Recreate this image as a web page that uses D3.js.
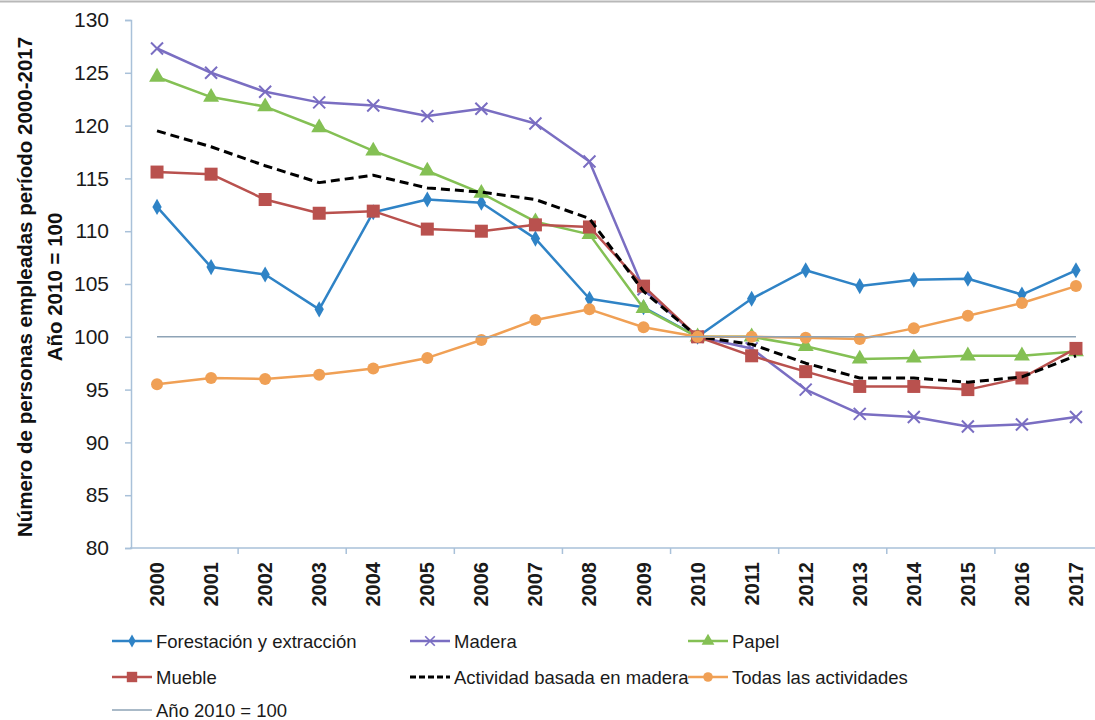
<!DOCTYPE html>
<html>
<head>
<meta charset="utf-8">
<script src="https://cdn.jsdelivr.net/npm/d3@7"></script>
<style>
  body { margin: 0; background: #fff; }
  svg { display: block; font-family: "Liberation Sans", Arial, sans-serif; }
</style>
</head>
<body>
<div id="container"></div>
<script>
// data (index, 2010 = 100)
var years = ['2000','2001','2002','2003','2004','2005','2006','2007','2008','2009',
             '2010','2011','2012','2013','2014','2015','2016','2017']
var forestacion = [112.3,106.6,105.9,102.6,111.8,113.0,112.7,109.3,103.6,102.8,100,103.6,106.3,104.8,105.4,105.5,104.0,106.3]
var madera      = [127.3,125.0,123.2,122.2,121.9,120.9,121.6,120.2,116.6,104.5,100,98.9,95.0,92.7,92.4,91.5,91.7,92.4]
var papel       = [124.6,122.7,121.8,119.8,117.6,115.7,113.6,110.9,109.7,102.7,100,100.0,99.1,97.9,98.0,98.2,98.2,98.6]
var mueble      = [115.6,115.4,113.0,111.7,111.9,110.2,110.0,110.6,110.4,104.8,100,98.2,96.7,95.3,95.3,95.0,96.1,98.9]
var actividad   = [119.5,118.0,116.2,114.6,115.3,114.1,113.7,113.0,111.2,104.3,100,99.3,97.5,96.1,96.1,95.7,96.2,98.2]
var todas       = [95.5,96.1,96.0,96.4,97.0,98.0,99.7,101.6,102.6,100.9,100,100.0,99.9,99.8,100.8,102.0,103.2,104.8]
var base2010    = [100,100,100,100,100,100,100,100,100,100,100,100,100,100,100,100,100,100]
var yTicks = [80,85,90,95,100,105,110,115,120,125,130]

var WIDTH = 1095
var HEIGHT = 720

var svg = d3.select('div#container').append('svg')
  .attr('width', WIDTH)
  .attr('height', HEIGHT)

// thin frame line at the very top of the picture
svg.append('line')
  .attr('x1', 0).attr('x2', WIDTH).attr('y1', 1.5).attr('y2', 1.5)
  .attr('stroke', '#b8b8b8').attr('stroke-width', 2)

var x = d3.scaleBand().domain(years).range([130, 1103])
var y = d3.scaleLinear().domain([80, 130]).range([548, 20])
var cx = function (d) { return x(d) + x.bandwidth() / 2 }

var axisColor = '#a9c1d9'

// y axis
var yAxis = svg.append('g')
  .attr('transform', 'translate(131,0)')
  .call(d3.axisLeft(y).tickValues(yTicks).tickSize(6).tickPadding(16))
yAxis.select('.domain').attr('stroke', axisColor).attr('stroke-width', 1.5)
yAxis.selectAll('.tick line').attr('stroke', axisColor).attr('stroke-width', 1.5)
yAxis.selectAll('.tick text')
  .attr('font-size', 21).attr('fill', '#1a1a1a')
  .attr('font-family', 'Liberation Sans, Arial, sans-serif')

// x axis, tick marks every two categories like the original
var xAxis = svg.append('g').attr('transform', 'translate(0,548)')
xAxis.append('line')
  .attr('x1', 130).attr('x2', WIDTH)
  .attr('stroke', axisColor).attr('stroke-width', 1.5)
xAxis.selectAll('line.tk')
  .data(years.filter(function (d, i) { return i % 2 === 0 && i > 0 }))
  .enter().append('line')
  .attr('class', 'tk')
  .attr('x1', function (d) { return x(d) }).attr('x2', function (d) { return x(d) })
  .attr('y1', 0).attr('y2', 6)
  .attr('stroke', axisColor).attr('stroke-width', 1.5)
xAxis.selectAll('text')
  .data(years)
  .enter().append('text')
  .attr('transform', function (d) { return 'translate(' + (cx(d) + 7) + ',14) rotate(-90)' })
  .attr('text-anchor', 'end')
  .attr('font-size', 20)
  .attr('font-weight', 'bold')
  .attr('fill', '#1a1a1a')
  .text(function (d) { return d })

// y title (two lines)
var yTitle = svg.append('text')
  .attr('transform', 'translate(32,287) rotate(-90)')
  .attr('text-anchor', 'middle')
  .attr('font-size', 20.5)
  .attr('font-weight', 'bold')
  .attr('fill', '#111')
yTitle.append('tspan').attr('x', 0).attr('y', 0).text('Número de personas empleadas período 2000-2017')
yTitle.append('tspan').attr('x', 0).attr('y', 30).text('Año 2010 = 100')

// series
var series = [
  { name: 'Forestación y extracción', values: forestacion, color: '#2f83c6', marker: 'diamond', width: 2.5 },
  { name: 'Madera', values: madera, color: '#7a6ec2', marker: 'x', width: 2.5 },
  { name: 'Papel', values: papel, color: '#84c054', marker: 'triangle', width: 2.5 },
  { name: 'Mueble', values: mueble, color: '#b9514e', marker: 'square', width: 2.5 },
  { name: 'Actividad basada en madera', values: actividad, color: '#000000', marker: null, width: 3, dash: '9,5' },
  { name: 'Todas las actividades', values: todas, color: '#f0a055', marker: 'circle', width: 2.5 },
  { name: 'Año 2010 = 100', values: base2010, color: '#8ea3b6', marker: null, width: 1.5 }
]

var line = d3.line()
  .x(function (d, i) { return cx(years[i]) })
  .y(function (d) { return y(d) })

function drawMarker(g, type, color) {
  if (type === 'diamond') {
    g.append('path').attr('d', d3.symbol(d3.symbolDiamond, 75)())
      .attr('fill', color)
  } else if (type === 'x') {
    g.append('path').attr('d', 'M-6,-6L6,6M-6,6L6,-6')
      .attr('stroke', color).attr('stroke-width', 2).attr('fill', 'none')
  } else if (type === 'triangle') {
    g.append('path').attr('d', d3.symbol(d3.symbolTriangle, 110)())
      .attr('fill', color)
  } else if (type === 'square') {
    g.append('rect').attr('x', -6.5).attr('y', -6.5).attr('width', 13).attr('height', 13)
      .attr('fill', color)
  } else if (type === 'circle') {
    g.append('circle').attr('r', 6).attr('fill', color)
  }
}

series.forEach(function (s) {
  var g = svg.append('g')
  g.append('path')
    .datum(s.values)
    .attr('d', line)
    .attr('fill', 'none')
    .attr('stroke', s.color)
    .attr('stroke-width', s.width)
    .attr('stroke-dasharray', s.dash || null)
    .attr('stroke-linejoin', 'round')
  if (s.marker) {
    s.values.forEach(function (v, i) {
      var m = g.append('g').attr('transform', 'translate(' + cx(years[i]) + ',' + y(v) + ')')
      drawMarker(m, s.marker, s.color)
    })
  }
})

// legend
var legendPos = [
  [112, 641], [410, 641], [688, 641],
  [112, 677], [410, 677], [688, 677],
  [112, 710]
]
series.forEach(function (s, i) {
  var lg = svg.append('g').attr('transform', 'translate(' + legendPos[i][0] + ',' + legendPos[i][1] + ')')
  lg.append('line')
    .attr('x1', 0).attr('x2', 40)
    .attr('stroke', s.color)
    .attr('stroke-width', s.marker ? 2.5 : s.width)
    .attr('stroke-dasharray', s.dash ? '6,3' : null)
  if (s.marker) {
    var m = lg.append('g').attr('transform', 'translate(20,0) scale(0.8)')
    drawMarker(m, s.marker, s.color)
  }
  lg.append('text')
    .attr('x', 44).attr('y', 6.5)
    .attr('font-size', 18.5)
    .attr('fill', '#1a1a1a')
    .text(s.name)
})
</script>
</body>
</html>
